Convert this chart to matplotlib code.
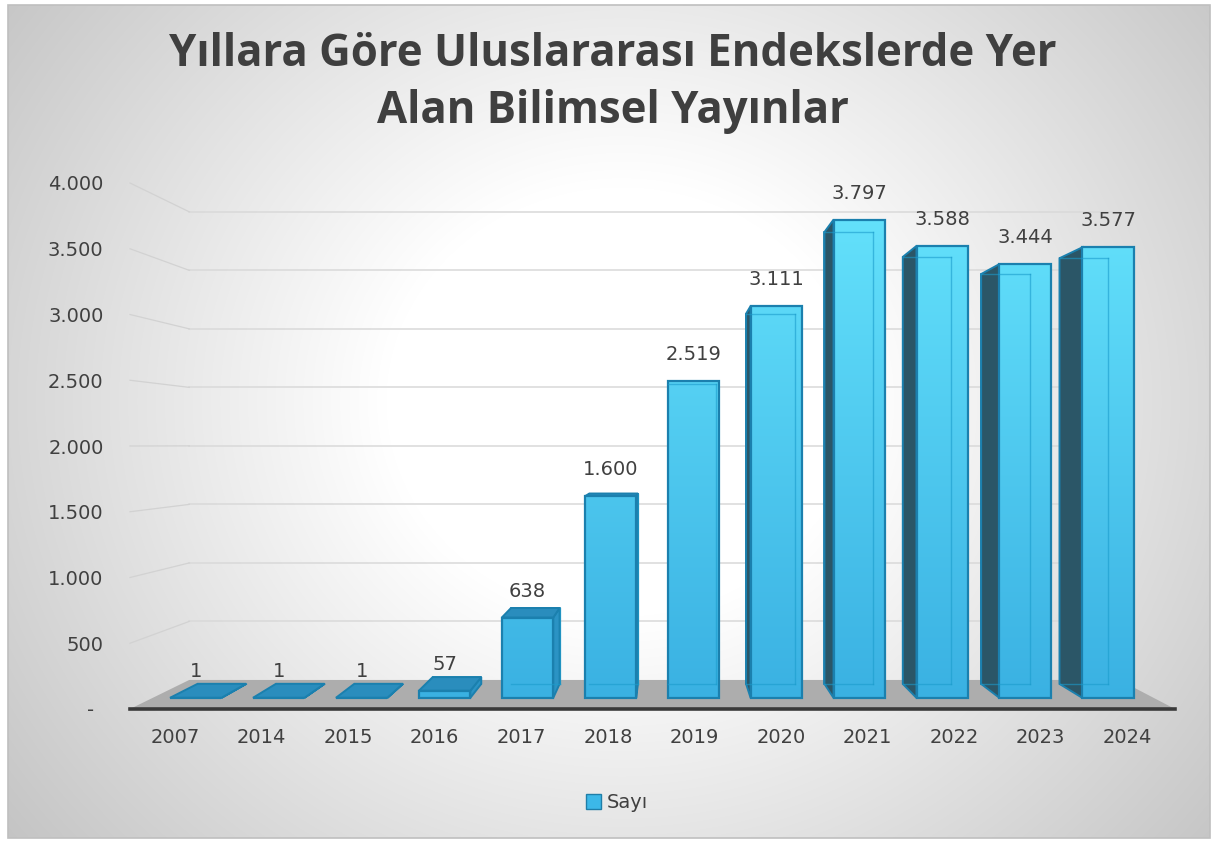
import numpy as np
import matplotlib
matplotlib.use("Agg")
import matplotlib.pyplot as plt
from matplotlib.patches import Polygon, Rectangle, Patch
from matplotlib.colors import LinearSegmentedColormap

# ---------------- data ----------------
years = ["2007", "2014", "2015", "2016", "2017", "2018",
         "2019", "2020", "2021", "2022", "2023", "2024"]
counts = [1, 1, 1, 57, 638, 1600, 2519, 3111, 3797, 3588, 3444, 3577]
y_ticks = [0, 500, 1000, 1500, 2000, 2500, 3000, 3500, 4000]
y_tick_labels = ["-\u2002", "500", "1.000", "1.500", "2.000",
                 "2.500", "3.000", "3.500", "4.000"]
title_line1 = "Yıllara Göre Uluslararası Endekslerde Yer"
title_line2 = "Alan Bilimsel Yayınlar"
series_name = "Sayı"


def tr_fmt(v):
    return f"{v:,}".replace(",", ".")


# ---------------- figure ----------------
W, H = 1215, 841
fig = plt.figure(figsize=(W / 100, H / 100), dpi=100, facecolor="white")

# background (radial gray gradient inside a thin border)
bg = fig.add_axes([0, 0, 1, 1])
bg.set_xlim(0, W)
bg.set_ylim(H, 0)
bg.axis("off")
yy, xx = np.mgrid[0:H, 0:W]
r = np.sqrt(((xx - 620) / 680.0) ** 2 + ((yy - 400) / 620.0) ** 2)
g = 1 - 0.186 * np.clip((r - 0.35) / 0.65, 0, None)
g = np.clip(g, 0.77, 1.0)
bg.imshow(np.dstack([g, g, g]), extent=(8, 1210, 838, 5), aspect="auto",
          interpolation="bilinear", zorder=0)
bg.add_patch(Rectangle((8, 5), 1202, 833, fill=False, edgecolor="#bfbfbf",
                       linewidth=1.2, zorder=1))

# ---------------- main axes (front plane) ----------------
ax = fig.add_axes([130 / W, (H - 709) / H, 1045 / W, 526 / H])
XL, XR = -0.52, 11.55
ax.set_xlim(XL, XR)
ax.set_ylim(0, 4000)
ax.patch.set_alpha(0)
for s in ["top", "right", "left"]:
    ax.spines[s].set_visible(False)
ax.spines["bottom"].set_color("#3a3a3a")
ax.spines["bottom"].set_linewidth(2.6)
ax.spines["bottom"].set_zorder(2.5)

ax.set_xticks(range(len(years)))
ax.set_xticklabels(years)
ax.set_yticks(y_ticks)
ax.set_yticklabels(y_tick_labels)
ax.tick_params(axis="x", length=0, pad=14, labelsize=14, labelcolor="#404040")
ax.tick_params(axis="y", length=0, pad=19, labelsize=14, labelcolor="#404040")

# perspective parameters (vanishing point in front-plane data units)
XV, VV = 5.7, 2008.0
S_WALL = 0.89
S_F, S_B = 0.958, 0.905
HW = 0.31


def P(x, v, s):
    return (XV + s * (x - XV), VV + s * (v - VV))


# floor
floor = Polygon([P(XL, 0, 1), P(XR, 0, 1), P(XR, 0, S_WALL), P(XL, 0, S_WALL)],
                closed=True, facecolor="#adadad", edgecolor="none", zorder=1,
                clip_on=False)
ax.add_patch(floor)

# back-wall gridlines and left-wall diagonals
for v in y_ticks[1:]:
    a = P(XL, v, S_WALL)
    b = P(XR, v, S_WALL)
    ax.plot([a[0], b[0]], [a[1], b[1]], color="#d9d9d9", lw=1.1, zorder=1.2,
            clip_on=False)
    f = P(XL, v, 1)
    ax.plot([f[0], a[0]], [f[1], a[1]], color="#d2d2d2", lw=0.9, zorder=1.2,
            clip_on=False)

# bars
grad_cmap = LinearSegmentedColormap.from_list("front", ["#39b0e2", "#66e4fd"])
grad = np.linspace(0, 1, 256).reshape(-1, 1)
edge_c = "#1b80ae"
for i, v in enumerate(counts):
    x0, x1 = i - HW, i + HW
    fr = [P(x0, 0, S_F), P(x1, 0, S_F), P(x1, v, S_F), P(x0, v, S_F)]
    bk = [P(x0, 0, S_B), P(x1, 0, S_B), P(x1, v, S_B), P(x0, v, S_B)]
    left = [P(x0, 0, S_F), P(x0, 0, S_B), P(x0, v, S_B), P(x0, v, S_F)]
    right = [P(x1, 0, S_F), P(x1, 0, S_B), P(x1, v, S_B), P(x1, v, S_F)]
    top = [P(x0, v, S_F), P(x1, v, S_F), P(x1, v, S_B), P(x0, v, S_B)]

    # back face (seen only through gaps)
    ax.add_patch(Polygon(bk, closed=True, facecolor="#3fbbe9", edgecolor=edge_c,
                         lw=1.2, zorder=3, clip_on=False))
    if x0 > XV:
        ax.add_patch(Polygon(left, closed=True, facecolor="#2b5667",
                             edgecolor=edge_c, lw=1.4, zorder=3.2, clip_on=False))
    if x1 < XV:
        ax.add_patch(Polygon(right, closed=True, facecolor="#2b93c4",
                             edgecolor=edge_c, lw=1.4, zorder=3.2, clip_on=False))
    if v < VV:
        ax.add_patch(Polygon(top, closed=True, facecolor="#2a8dbd",
                             edgecolor=edge_c, lw=1.4, zorder=3.3, clip_on=False))
    # front face with vertical gradient
    front = Polygon(fr, closed=True, facecolor="none", edgecolor=edge_c,
                    lw=1.6, zorder=3.6, clip_on=False)
    ax.add_patch(front)
    im = ax.imshow(grad, cmap=grad_cmap, origin="lower", aspect="auto",
                   extent=(XL, XR, 0, 4000), zorder=3.5, interpolation="bilinear")
    im.set_clip_path(front)
    # hidden back edges showing faintly through the (semi-transparent) front
    bx0, by0 = P(x1, 0, S_B)
    bx1, by1 = P(x1, v, S_B)
    tx0, ty0 = P(x0, v, S_B)
    if v > 100:
        ax.plot([bx0, bx1], [by0, by1], color="#1b9ccc", lw=1.0, alpha=0.6,
                zorder=3.7, clip_on=False)
        ax.plot([P(x0, 0, S_B)[0], bx0], [P(x0, 0, S_B)[1], by0], color="#1b9ccc",
                lw=1.0, alpha=0.6, zorder=3.7, clip_on=False)
        if v > VV:
            ax.plot([tx0, bx1], [ty0, by1], color="#1b9ccc", lw=1.0, alpha=0.6,
                    zorder=3.7, clip_on=False)
    # data label
    lx, ly = P(i, v, S_F)
    ax.annotate(tr_fmt(v), xy=(lx, ly), xytext=(0, 19), textcoords="offset points",
                ha="center", va="center", fontsize=14, color="#404040",
                zorder=5, annotation_clip=False)

# title
fig.text(613 / W, 1 - 55 / H, title_line1, ha="center", va="center",
         fontsize=31.5, fontweight="bold", family="Open Sans", color="#3f3f3f")
fig.text(613 / W, 1 - 112 / H, title_line2, ha="center", va="center",
         fontsize=31.5, fontweight="bold", family="Open Sans", color="#3f3f3f")

# legend
fig.legend(handles=[Patch(facecolor="#3cb8e8", edgecolor="#1f7ea8")],
           labels=[series_name], loc="center",
           bbox_to_anchor=(617 / W, 1 - 803 / H), frameon=False,
           handlelength=0.8, handleheight=0.8, handletextpad=0.3,
           fontsize=14, labelcolor="#404040")

fig.savefig("out.png", dpi=100, facecolor="white")
